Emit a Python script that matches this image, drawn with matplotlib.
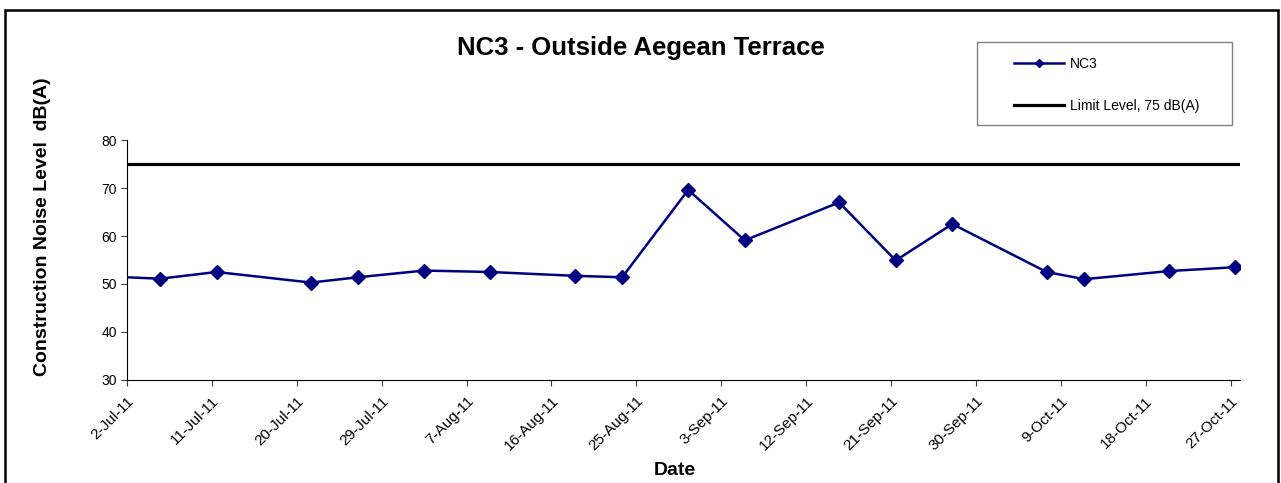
#!/usr/bin/env python3
# -*- coding:utf-8 -*-

import pandas as pd
import matplotlib.pyplot as plt
import matplotlib.dates as mdates
from matplotlib.patches import Rectangle

plt.rcParams['font.family'] = ['Liberation Sans', 'DejaVu Sans']

# NC3 measurements (first one falls just before the axis start)
dates = ["2011-06-28", "2011-07-05", "2011-07-11", "2011-07-21", "2011-07-26",
         "2011-08-02", "2011-08-09", "2011-08-18", "2011-08-23", "2011-08-30",
         "2011-09-05", "2011-09-15", "2011-09-21", "2011-09-27", "2011-10-07",
         "2011-10-11", "2011-10-20", "2011-10-27"]
nc3_levels = [51.7, 51.1, 52.5, 50.3, 51.4, 52.8, 52.5, 51.7, 51.4, 69.6,
              59.1, 67.0, 54.9, 62.5, 52.5, 51.0, 52.7, 53.5]
limit_level = 75

x_start = "2011-07-02"
x_end = "2011-10-28"
tick_step_days = 9

if __name__ == "__main__":
    fig = plt.figure(figsize=(12.81, 4.83), dpi=100)
    ax = fig.add_axes([0.0991, 0.2133, 0.8689, 0.4968])

    # excel puts each day in the middle of its slot
    x = pd.to_datetime(dates) + pd.Timedelta(hours=12)
    xmin, xmax = pd.Timestamp(x_start), pd.Timestamp(x_end)

    ax.plot([xmin, xmax], [limit_level, limit_level], color="black", lw=2.3,
            label="Limit Level, 75 dB(A)", zorder=2)
    nc3_line, = ax.plot(x, nc3_levels, color="#000080", lw=1.8, marker="D",
                        ms=7, mec="#000080", label="NC3", zorder=3)

    ax.set_xlim(xmin, xmax)
    ax.set_ylim(30, 80)
    ax.set_yticks(range(30, 81, 10))
    ax.set_xticks(pd.date_range(x_start, x_end, freq=f"{tick_step_days}D"))
    ax.xaxis.set_major_formatter(
        plt.FuncFormatter(lambda v, p: f"{mdates.num2date(v).day}-{mdates.num2date(v):%b-%y}"))
    ax.tick_params(labelsize=10, length=4, color="#404040", pad=3)
    ax.tick_params(axis="x", labelsize=11, pad=6)
    for lab in ax.get_xticklabels():
        lab.set_rotation(45)
        lab.set_ha("right")
        lab.set_va("top")
        lab.set_rotation_mode("anchor")
    ax.spines["top"].set_visible(False)
    ax.spines["right"].set_visible(False)

    fig.text(0.5, 0.9, "NC3 - Outside Aegean Terrace", ha="center", va="center",
             fontsize=18.5, fontweight="bold")
    fig.text(0.0335, 0.531, "Construction Noise Level  dB(A)", rotation=90,
             ha="center", va="center", fontsize=14, fontweight="bold")
    fig.text(0.527, 0.025, "Date", ha="center", va="center", fontsize=14,
             fontweight="bold")

    handles, labels = [nc3_line, ax.lines[0]], ["NC3", "Limit Level, 75 dB(A)"]
    fig.legend(handles, labels, loc="upper left", bbox_to_anchor=(0.7865, 0.8965),
               frameon=False, fontsize=10, borderpad=0, handlelength=3.6,
               handletextpad=0.4, labelspacing=2.0, markerscale=0.6)
    fig.patches.append(Rectangle((0.7625, 0.7412), 0.1992, 0.1725,
                                 transform=fig.transFigure, fill=False,
                                 ec="#808080", lw=1))
    # outer chart border, bottom edge runs off the picture
    fig.patches.append(Rectangle((0.004, -0.05), 0.9935, 1.029,
                                 transform=fig.transFigure, fill=False,
                                 ec="black", lw=1.8))

    plt.savefig("out.png", dpi=100)
